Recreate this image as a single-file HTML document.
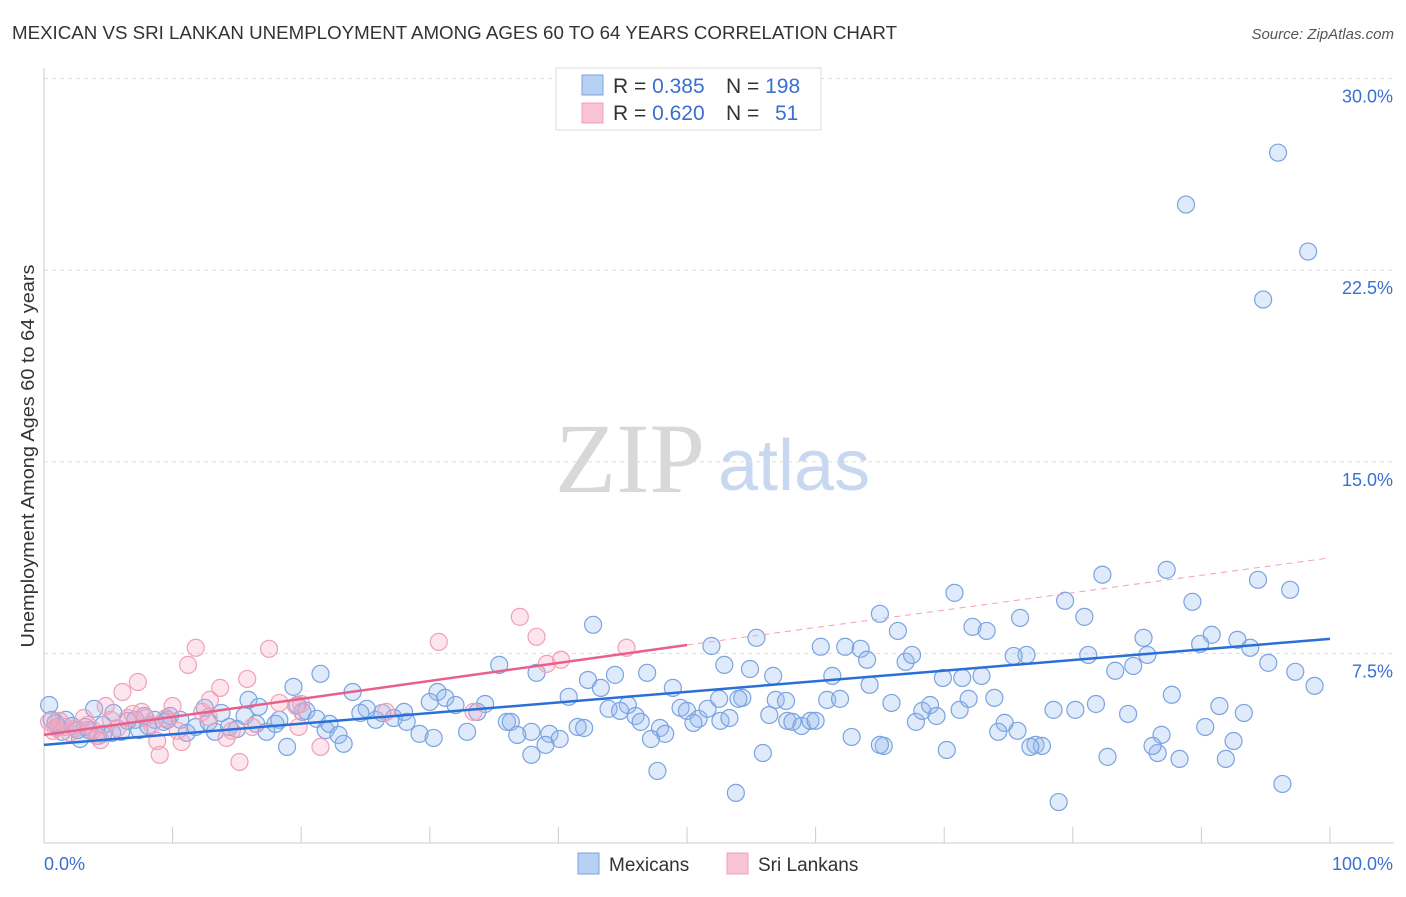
<!DOCTYPE html>
<html><head><meta charset="utf-8"><style>
body{margin:0;background:#fff;font-family:"Liberation Sans",sans-serif;}
</style></head><body>
<svg id="chart" width="1406" height="892" xmlns="http://www.w3.org/2000/svg">
<text x="12" y="39" font-size="18" fill="#333" textLength="885" lengthAdjust="spacingAndGlyphs">MEXICAN VS SRI LANKAN UNEMPLOYMENT AMONG AGES 60 TO 64 YEARS CORRELATION CHART</text>
<text x="1394" y="39" font-size="15" fill="#555" font-style="italic" text-anchor="end">Source: ZipAtlas.com</text>
<text x="555" y="492" font-size="100" fill="#d8d8d8" font-family="Liberation Serif,serif">ZIP</text>
<text x="718" y="490" font-size="72" fill="#c8d8f0">atlas</text>
<g id="grid"></g>
<g id="axes"></g>
<g id="pts"></g>
<g id="lines"></g>
<text transform="translate(34,456) rotate(-90)" font-size="18" fill="#333" text-anchor="middle" textLength="383" lengthAdjust="spacingAndGlyphs">Unemployment Among Ages 60 to 64 years</text>
<g>
<rect x="556" y="68" width="265" height="62" fill="#fff" stroke="#ddd"/>
<rect x="582" y="75" width="21" height="20" fill="#b8d0f4" stroke="#7aa3e0"/>
<rect x="582" y="103" width="21" height="20" fill="#f8c4d4" stroke="#f0a0b8"/>
<text x="613" y="93" font-size="21" fill="#333">R = <tspan fill="#3a6fd0">0.385</tspan></text>
<text x="726" y="93" font-size="21" fill="#333">N = <tspan fill="#3a6fd0">198</tspan></text>
<text x="613" y="120" font-size="21" fill="#333">R = <tspan fill="#3a6fd0">0.620</tspan></text>
<text x="726" y="120" font-size="21" fill="#333">N = <tspan fill="#3a6fd0" x="775">51</tspan></text>
</g>
<g>
<rect x="578" y="853" width="21" height="21" fill="#b8d0f4" stroke="#7aa3e0"/>
<text x="609" y="871" font-size="19" fill="#333">Mexicans</text>
<rect x="727" y="853" width="21" height="21" fill="#f8c4d4" stroke="#f0a0b8"/>
<text x="758" y="871" font-size="19" fill="#333">Sri Lankans</text>
</g>
</svg>
<script>
const yTicks=[7.5,15,22.5,30];
const yTickLabels=["7.5%","15.0%","22.5%","30.0%"];
const xTickLabels=["0.0%","100.0%"];
const blueX=[95.96,88.8,98.3,94.8,94.4,96.9,87.3,82.3,89.3,70.8,79.4,80.9,75.9,72.2,73.3,65.0,66.4,85.5,90.8,92.8,89.9,93.8,95.2,97.3,98.8,84.7,83.3,85.8,81.2,76.4,75.4,72.9,69.9,67.0,67.5,63.5,64.0,62.3,60.4,61.3,64.2,56.7,54.9,52.9,51.9,55.4,42.7,35.4,38.3,44.4,46.9,43.3,48.9,42.3,40.8,21.5,19.4,24.0,30.6,31.2,34.3,30.0,32.0,33.7,28.0,26.3,25.1,24.6,25.8,27.2,28.2,29.2,30.3,32.9,36.0,36.3,37.9,39.3,40.1,36.8,37.9,39.0,41.5,42.0,43.9,45.4,44.8,46.0,46.4,47.9,48.3,47.2,47.7,49.5,50.0,50.9,50.5,51.6,52.5,54.3,54.0,52.6,53.3,56.4,56.9,57.8,57.7,58.2,58.9,59.6,60.0,60.9,61.9,62.8,65.9,65.3,67.8,68.3,68.9,69.4,71.2,71.9,73.9,74.7,74.2,77.1,77.6,76.7,75.7,78.5,80.2,81.8,84.3,87.7,86.9,86.6,88.3,90.3,91.4,92.5,91.9,93.3,96.3,82.7,86.2,78.9,70.2,55.9,53.8,65.0,71.4,1.7,0.6,0.4,1.1,1.4,2.2,2.8,3.2,3.9,4.2,4.6,5.4,6.0,6.5,7.1,7.4,8.1,8.6,9.3,9.8,10.6,11.1,11.8,12.8,13.3,13.8,14.4,15.0,15.6,15.9,16.5,17.3,18.0,18.3,18.9,19.7,20.1,20.4,21.2,21.9,22.2,22.9,23.3,16.7,12.5,9.6,4.6,7.8,2.6,0.9,3.5,5.3];
const blueY=[27.1,25.07,23.23,21.35,10.38,9.99,10.77,10.58,9.52,9.87,9.56,8.93,8.89,8.54,8.38,9.05,8.38,8.11,8.23,8.03,7.87,7.72,7.13,6.78,6.23,7.01,6.82,7.44,7.44,7.44,7.40,6.62,6.54,7.17,7.44,7.68,7.25,7.76,7.76,6.62,6.27,6.62,6.89,7.05,7.79,8.11,8.62,7.05,6.74,6.66,6.74,6.15,6.15,6.46,5.80,6.70,6.19,5.99,5.99,5.76,5.52,5.60,5.48,5.21,5.21,5.17,5.33,5.17,4.90,4.97,4.82,4.35,4.19,4.43,4.82,4.82,4.43,4.35,4.15,4.31,3.53,3.92,4.62,4.58,5.33,5.48,5.25,5.05,4.82,4.58,4.35,4.15,2.90,5.37,5.25,4.94,4.78,5.33,5.72,5.76,5.72,4.86,4.97,5.09,5.68,4.86,5.64,4.82,4.66,4.86,4.86,5.68,5.72,4.23,5.56,3.88,4.82,5.25,5.48,5.05,5.29,5.72,5.76,4.78,4.43,3.92,3.88,3.84,4.47,5.29,5.29,5.52,5.13,5.88,4.31,3.60,3.37,4.62,5.44,4.07,3.37,5.17,2.39,3.45,3.88,1.68,3.72,3.60,2.04,3.92,6.54,4.90,4.90,5.48,4.62,4.43,4.66,4.15,4.62,5.33,4.27,4.70,5.17,4.43,4.86,4.90,4.50,4.66,4.90,4.82,5.05,4.90,4.39,4.62,4.82,4.43,5.17,4.62,4.54,5.05,5.68,4.74,4.43,4.74,4.90,3.84,5.48,5.21,5.25,4.94,4.50,4.74,4.31,3.96,5.41,5.37,4.90,4.35,5.05,4.50,4.78,4.50,4.39];
const pinkX=[0.4,0.9,0.7,1.2,1.6,2.0,2.5,3.1,3.4,3.8,4.1,4.4,4.8,5.2,5.7,6.1,6.5,6.9,7.3,7.6,7.9,8.4,8.8,9.0,9.5,10.0,10.4,10.7,11.2,11.8,12.3,12.8,12.9,13.7,14.2,14.6,15.2,15.8,16.2,17.5,18.3,19.6,19.8,21.5,20.0,26.6,30.7,33.4,37.0,38.3,39.1,40.2,45.3];
const pinkY=[4.82,4.58,4.47,4.86,4.62,4.39,4.58,4.97,4.70,4.50,4.27,4.11,5.44,4.90,4.58,5.99,4.97,5.13,6.38,5.21,4.97,4.70,4.07,3.53,4.97,5.44,4.47,4.03,7.05,7.72,5.21,5.01,5.68,6.15,4.19,4.47,3.25,6.50,4.62,7.68,5.56,5.44,4.62,3.84,5.52,5.21,7.95,5.21,8.93,8.15,7.09,7.25,7.72];
const blueTrend=[3.92,8.07];
const pinkTrend=[4.31,7.83,11.24];
const NS="http://www.w3.org/2000/svg";
const X0=44,X1=1330,Y0=845,PXPER=191.6/7.5;
const xs=v=>X0+(X1-X0)*v/100;
const ys=v=>Y0-v*PXPER;
function mk(t,a,p){const e=document.createElementNS(NS,t);for(const k in a)e.setAttribute(k,a[k]);p.appendChild(e);return e;}
const grid=document.getElementById('grid');
yTicks.forEach((t,i)=>{
  const l=mk('line',{x1:44,x2:1394,y1:ys(t),y2:ys(t),stroke:'#ddd','stroke-dasharray':'4,4'},grid);
  
  
  const tx=mk('text',{x:1393,y:ys(t)+24,'font-size':18,fill:'#3a6fd0','text-anchor':'end'},grid);
  tx.textContent=yTickLabels[i];
  
  
});
const ax=document.getElementById('axes');
mk('line',{x1:44,x2:44,y1:68,y2:843,stroke:'#ccc'},ax);
mk('line',{x1:44,x2:1394,y1:843,y2:843,stroke:'#ccc'},ax);
for(let i=0;i<=10;i++){const l=mk('line',{x1:xs(i*10),x2:xs(i*10),y1:827,y2:843,stroke:'#ccc'},ax);}
const t0=mk('text',{x:44,y:870,'font-size':18,fill:'#3a6fd0'},ax);t0.textContent=xTickLabels[0];


const t1=mk('text',{x:1393,y:870,'font-size':18,fill:'#3a6fd0','text-anchor':'end'},ax);t1.textContent=xTickLabels[1];


const pts=document.getElementById('pts');
blueX.forEach((x,i)=>{
  const c=mk('circle',{cx:xs(x),cy:ys(blueY[i]),r:8.5,fill:'rgba(150,185,240,0.3)',stroke:'#7aa3e0','stroke-width':1.2},pts);
  
  
});
pinkX.forEach((x,i)=>{
  const c=mk('circle',{cx:xs(x),cy:ys(pinkY[i]),r:8.5,fill:'rgba(245,170,195,0.3)',stroke:'#f0a0b8','stroke-width':1.2},pts);
  
  
});
const ln=document.getElementById('lines');
const b=mk('line',{x1:xs(0),y1:ys(blueTrend[0]),x2:xs(100),y2:ys(blueTrend[1]),stroke:'#2a6fd6','stroke-width':2.5},ln);


const p=mk('line',{x1:xs(0),y1:ys(pinkTrend[0]),x2:xs(50),y2:ys(pinkTrend[1]),stroke:'#e8608a','stroke-width':2.5},ln);


const pd=mk('line',{x1:xs(50),y1:ys(pinkTrend[1]),x2:xs(100),y2:ys(pinkTrend[2]),stroke:'#f0a0b8','stroke-width':1,'stroke-dasharray':'6,5'},ln);


</script>
</body></html>
